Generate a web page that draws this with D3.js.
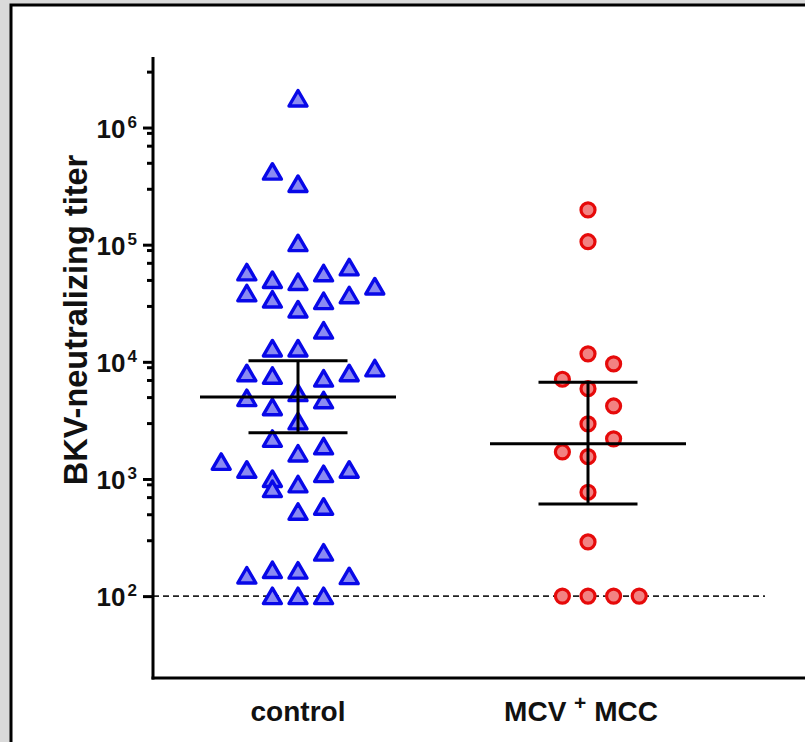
<!DOCTYPE html>
<html>
<head>
<meta charset="utf-8">
<script src="https://cdn.jsdelivr.net/npm/d3@7"></script>
<style>
  body { margin: 0; background: #dadada; }
  svg { display: block; }
</style>
</head>
<body>
<svg id="chart"></svg>
<script>
const groups = ['control', 'MCV+ MCC'];

// control group: titer + beeswarm column (-3..3)
const controlTiter = [1.77e6, 4.2e5, 3.3e5, 1.03e5,
  5.8e4, 5.0e4, 4.8e4, 5.7e4, 6.4e4, 4.4e4,
  3.85e4, 3.4e4, 2.8e4, 3.3e4, 3.7e4, 1.85e4,
  1.3e4, 1.3e4, 8.0e3, 7.6e3, 7.2e3, 8.0e3, 8.8e3,
  4.9e3, 4.1e3, 5.4e3, 4.7e3, 3.1e3, 2.2e3, 1.65e3, 1.9e3,
  1.4e3, 1.2e3, 1.0e3, 820, 900, 1.1e3, 1.2e3,
  525, 580, 235, 150, 167, 165, 148, 100, 100, 100];
const controlColumn = [0, -1, 0, 0,
  -2, -1, 0, 1, 2, 3,
  -2, -1, 0, 1, 2, 1,
  -1, 0, -2, -1, 1, 2, 3,
  -2, -1, 0, 1, 0, -1, 0, 1,
  -3, -2, -1, -1, 0, 1, 2,
  0, 1, 1, -2, -1, 0, 2, -1, 0, 1];

// MCV+ MCC group
const mccTiter = [1.98e5, 1.06e5, 1.17e4, 9.6e3, 7.1e3, 5.9e3, 4.2e3, 2.95e3,
  2.2e3, 1.7e3, 1.55e3, 770, 290, 100, 100, 100, 100];
const mccColumn = [0, 0, 0, 1, -1, 0, 1, 0, 1, -1, 0, 0, 0, -1, 0, 1, 2];

// geometric mean with error bar
const centerValue = [5000, 2000];
const upperValue = [10200, 6700];
const lowerValue = [2480, 611];

const majorTicks = [1e2, 1e3, 1e4, 1e5, 1e6];
const minorTicks = [3e2, 5e2, 7e2, 9e2, 3e3, 5e3, 7e3, 9e3, 3e4, 5e4, 7e4, 9e4,
  3e5, 5e5, 7e5, 9e5, 3e6];
const cutoff = 100;

const W = 805, H = 742;
const font = 'Liberation Sans, Arial, sans-serif';
const svg = d3.select('#chart').attr('width', W).attr('height', H);

// white panel with black frame
svg.append('rect').attr('x', 11).attr('y', 5).attr('width', W + 20).attr('height', H + 20)
  .attr('fill', '#fff').attr('stroke', '#000').attr('stroke-width', 3);

const axisX = 153, axisY = 678;
const y = d3.scaleLog().domain([20, 4e6]).range([axisY, 57]);
const x = d3.scaleBand().domain(groups).range([axisX, 733]);
const step = 25.6;
const cx = (g, col) => x(g) + x.bandwidth() / 2 + col * step;

// cutoff line
svg.append('line').attr('x1', axisX).attr('x2', 765)
  .attr('y1', y(cutoff)).attr('y2', y(cutoff))
  .attr('stroke', '#222').attr('stroke-width', 1.6).attr('stroke-dasharray', '6,4');

// axes
const gMinor = svg.append('g').attr('transform', `translate(${axisX},0)`)
  .call(d3.axisLeft(y).tickValues(minorTicks).tickSize(6).tickFormat(''));
gMinor.select('.domain').remove();
const gMajor = svg.append('g').attr('transform', `translate(${axisX},0)`)
  .call(d3.axisLeft(y).tickValues(majorTicks).tickSize(10).tickFormat(''));
gMajor.select('.domain').remove();
svg.selectAll('.tick line').attr('stroke', '#000').attr('stroke-width', 3);

svg.append('line').attr('x1', axisX).attr('x2', axisX).attr('y1', 57).attr('y2', axisY + 1.5)
  .attr('stroke', '#000').attr('stroke-width', 3);
svg.append('line').attr('x1', axisX - 1.5).attr('x2', W).attr('y1', axisY).attr('y2', axisY)
  .attr('stroke', '#000').attr('stroke-width', 3);

// tick labels 10^n
majorTicks.forEach(v => {
  const t = svg.append('text').attr('x', 137).attr('y', y(v) + 10)
    .attr('text-anchor', 'end')
    .style('font-family', font)
    .style('font-weight', 'bold').style('font-size', '26px').style('fill', '#111');
  t.append('tspan').text('10');
  t.append('tspan').attr('dy', -10).attr('dx', 2).style('font-size', '17px')
    .text(Math.round(Math.log10(v)));
});

// y label
svg.append('text').attr('transform', 'translate(87,320) rotate(-90)')
  .attr('text-anchor', 'middle')
  .style('font-family', font)
  .style('font-weight', 'bold').style('font-size', '32.5px').style('fill', '#111')
  .text('BKV-neutralizing titer');

// x labels
svg.append('text').attr('x', cx('control', 0)).attr('y', 721)
  .attr('text-anchor', 'middle')
  .style('font-family', font)
  .style('font-weight', 'bold').style('font-size', '28px').style('fill', '#111')
  .text('control');
const xl2 = svg.append('text').attr('x', cx('MCV+ MCC', 0) - 7).attr('y', 721)
  .attr('text-anchor', 'middle')
  .style('font-family', font)
  .style('font-weight', 'bold').style('font-size', '28px').style('fill', '#111');
xl2.append('tspan').text('MCV ');
xl2.append('tspan').attr('dy', -11).style('font-size', '21px').text('+');
xl2.append('tspan').attr('dy', 11).text(' MCC');

// points
const triangle = 'M0,-8L9,7.5L-9,7.5Z';
svg.append('g').selectAll('path').data(controlTiter).join('path')
  .attr('d', triangle)
  .attr('transform', (d, i) => `translate(${cx('control', controlColumn[i])},${y(d)})`)
  .attr('fill', '#8a8af2').attr('stroke', '#0808e8').attr('stroke-width', 3.4)
  .attr('stroke-linejoin', 'round');

svg.append('g').selectAll('circle').data(mccTiter).join('circle')
  .attr('cx', (d, i) => cx('MCV+ MCC', mccColumn[i]))
  .attr('cy', d => y(d)).attr('r', 7)
  .attr('fill', '#f28282').attr('stroke', '#e60a0a').attr('stroke-width', 3.2);

// mean and error bars
groups.forEach((g, i) => {
  const c = cx(g, 0);
  const bars = svg.append('g').attr('stroke', '#000').attr('stroke-width', 3);
  bars.append('line').attr('x1', c).attr('x2', c)
    .attr('y1', y(upperValue[i])).attr('y2', y(lowerValue[i]));
  bars.append('line').attr('x1', c - 98).attr('x2', c + 98)
    .attr('y1', y(centerValue[i])).attr('y2', y(centerValue[i]));
  [upperValue[i], lowerValue[i]].forEach(v => {
    bars.append('line').attr('x1', c - 49.5).attr('x2', c + 49.5)
      .attr('y1', y(v)).attr('y2', y(v));
  });
});
</script>
</body>
</html>
